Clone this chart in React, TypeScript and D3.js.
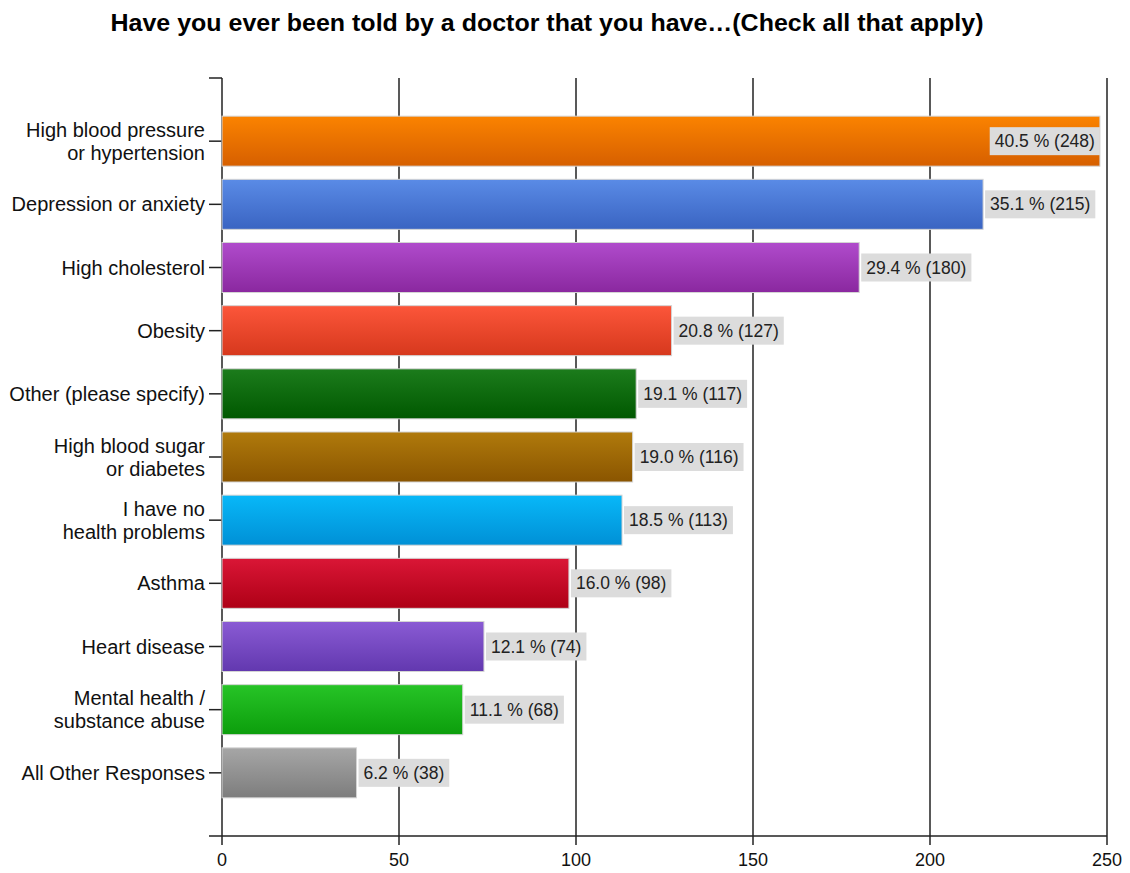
import React, { useEffect, useRef } from "react";
import * as d3 from "d3";

const categories: string[][] = [
  ["High blood pressure", "or hypertension"],
  ["Depression or anxiety"],
  ["High cholesterol"],
  ["Obesity"],
  ["Other (please specify)"],
  ["High blood sugar", "or diabetes"],
  ["I have no", "health problems"],
  ["Asthma"],
  ["Heart disease"],
  ["Mental health /", "substance abuse"],
  ["All Other Responses"],
];
const counts = [248, 215, 180, 127, 117, 116, 113, 98, 74, 68, 38];
const percents = ["40.5", "35.1", "29.4", "20.8", "19.1", "19.0", "18.5", "16.0", "12.1", "11.1", "6.2"];
const topColors = ["#fb8300", "#5a8be6", "#b04bcc", "#fc563a", "#1c7c1c", "#b07a0c", "#08b8f8", "#da1636", "#8a5bd4", "#27c427", "#a6a6a6"];
const bottomColors = ["#d65f00", "#3a64c2", "#8a289f", "#d6381d", "#005800", "#8a5500", "#0090d6", "#ae0016", "#6238af", "#0c9e0c", "#7d7d7d"];
const xTicks = [0, 50, 100, 150, 200, 250];
const title = "Have you ever been told by a doctor that you have…(Check all that apply)";

const W = 1130;
const H = 873;
const left = 222;
const right = 1107;
const top = 78;
const bottom = 836;
const font = "'Liberation Sans', Arial, sans-serif";

export default function App() {
  const ref = useRef<SVGSVGElement>(null);
  useEffect(() => {
    const svg = d3.select(ref.current);
    svg.selectAll("*").remove();
    const x = d3.scaleLinear().domain([0, 250]).range([left, right]);
    const idx = categories.map((_, i) => String(i));
    const y = d3.scalePoint<string>().domain(idx).range([top, bottom]).padding(1);
    const barH = 50;

    const defs = svg.append("defs");
    topColors.forEach((c, i) => {
      const g = defs.append("linearGradient").attr("id", "g" + i).attr("x1", 0).attr("y1", 0).attr("x2", 0).attr("y2", 1);
      g.append("stop").attr("offset", "0%").attr("stop-color", c);
      g.append("stop").attr("offset", "100%").attr("stop-color", bottomColors[i]);
    });

    svg.append("rect").attr("width", W).attr("height", H).attr("fill", "#fff");

    svg.append("text")
      .attr("x", 547).attr("y", 31)
      .attr("text-anchor", "middle")
      .attr("font-family", font).attr("font-weight", "bold").attr("font-size", 23)
      .attr("textLength", 873).attr("lengthAdjust", "spacingAndGlyphs")
      .attr("fill", "#000")
      .text(title);

    // gridlines
    xTicks.slice(1).forEach((t) => {
      svg.append("line").attr("x1", x(t)).attr("x2", x(t)).attr("y1", top).attr("y2", bottom + 9)
        .attr("stroke", "#222").attr("stroke-width", 1.5);
    });
    // axes
    svg.append("line").attr("x1", left).attr("x2", left).attr("y1", top).attr("y2", bottom + 9).attr("stroke", "#222").attr("stroke-width", 1.5);
    svg.append("line").attr("x1", left - 13).attr("x2", right).attr("y1", bottom).attr("y2", bottom).attr("stroke", "#222").attr("stroke-width", 1.5);
    svg.append("line").attr("x1", left - 13).attr("x2", left).attr("y1", top).attr("y2", top).attr("stroke", "#222").attr("stroke-width", 1.5);

    xTicks.forEach((t) => {
      svg.append("text").attr("x", x(t)).attr("y", 866).attr("text-anchor", "middle")
        .attr("font-family", font).attr("font-size", 18).attr("fill", "#111").text(String(t));
    });

    categories.forEach((lines, i) => {
      const cy = y(String(i))!;
      svg.append("line").attr("x1", left - 13).attr("x2", left).attr("y1", cy).attr("y2", cy).attr("stroke", "#222").attr("stroke-width", 1.5);
      const lh = 23;
      lines.forEach((ln, j) => {
        const off = (j - (lines.length - 1) / 2) * lh;
        svg.append("text").attr("x", 205).attr("y", cy + off + 7).attr("text-anchor", "end")
          .attr("font-family", font).attr("font-size", 20).attr("fill", "#111").text(ln);
      });
    });

    counts.forEach((v, i) => {
      const cy = y(String(i))!;
      svg.append("rect").attr("x", x(0)).attr("y", cy - barH / 2).attr("width", x(v) - x(0)).attr("height", barH)
        .attr("fill", `url(#g${i})`).attr("stroke", "#d4d4d4").attr("stroke-width", 1);
      const label = `${percents[i]} % (${v})`;
      const t = svg.append("text").attr("font-family", font).attr("font-size", 17.5).attr("fill", "#222").text(label);
      const tw = (t.node() as SVGTextElement).getComputedTextLength();
      const bw = tw + 10;
      const bh = 28;
      let bx = x(v) + 2;
      if (bx + bw > right) bx = x(v) - bw;
      svg.insert("rect", () => t.node() as any).attr("x", bx).attr("y", cy - bh / 2).attr("width", bw).attr("height", bh).attr("fill", "#dcdcdc");
      t.attr("x", bx + 5).attr("y", cy + 6);
    });
  }, []);
  return <svg ref={ref} width={W} height={H} style={{ position: "absolute", left: 0, top: 0 }} />;
}
